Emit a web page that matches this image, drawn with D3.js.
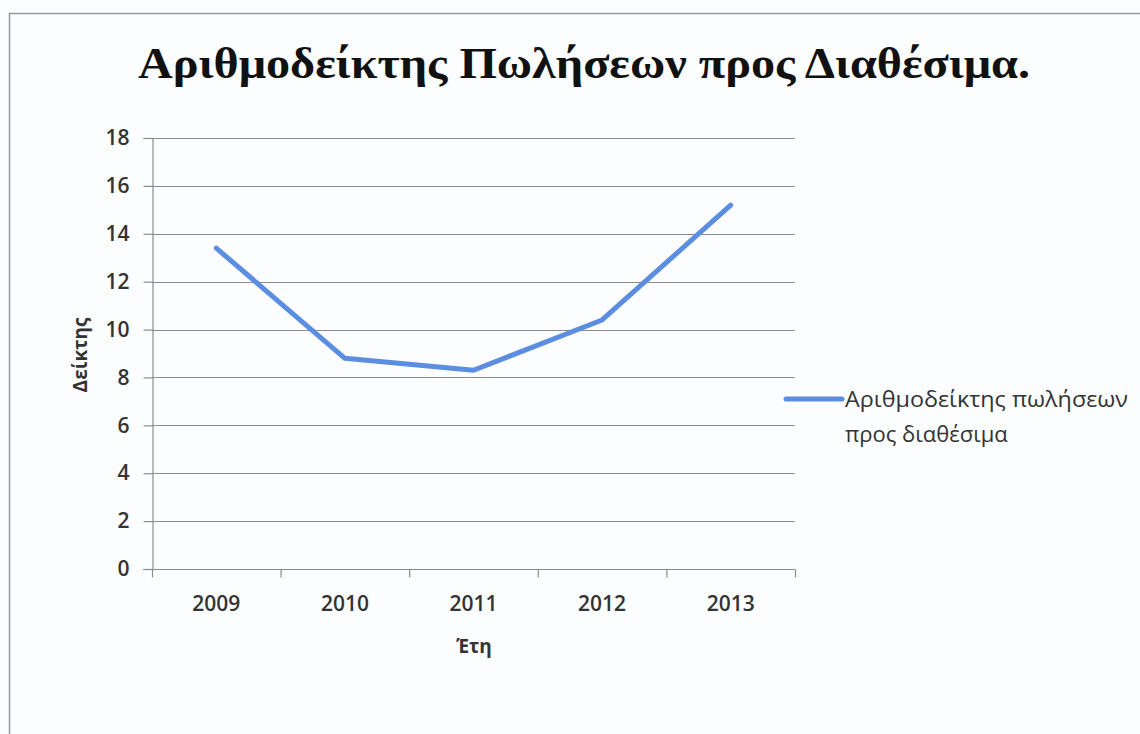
<!DOCTYPE html>
<html>
<head>
<meta charset="utf-8">
<script src="https://cdn.jsdelivr.net/npm/d3@7"></script>
<style>
  html, body { margin: 0; padding: 0; background: #ffffff; }
  svg { display: block; }
</style>
</head>
<body>
<svg id="chart" width="1140" height="734"></svg>
<script>
// Sales-to-cash ratio by year
const years = ["2009", "2010", "2011", "2012", "2013"];
const ratioValues = [13.4, 8.8, 8.3, 10.4, 15.2];
const yTicks = [0, 2, 4, 6, 8, 10, 12, 14, 16, 18];
const titleText = "Αριθμοδείκτης Πωλήσεων προς Διαθέσιμα.";
const yTitle = "Δείκτης";
const xTitle = "Έτη";
const legendLines = ["Αριθμοδείκτης πωλήσεων", "προς διαθέσιμα"];

const svg = d3.select("#chart");
const W = 1140, H = 734;
const plot = { left: 152, right: 795, top: 138, bottom: 569 };
const lineColor = "#5b8ee0";
const gridColor = "#8c8c8c";
const textColor = "#333333";
const sans = "'Open Sans', 'Noto Sans', sans-serif";

// page background and frame
svg.append("rect").attr("width", W).attr("height", H).attr("fill", "#fbfdfe");
svg.append("path")
  .attr("d", `M9.5,${H} V13.5 H${W}`)
  .attr("fill", "none").attr("stroke", "#9a9a9a").attr("stroke-width", 1.5);

// title
svg.append("text")
  .attr("x", 584).attr("y", 78)
  .attr("text-anchor", "middle")
  .attr("font-family", "'Liberation Serif', 'Times New Roman', serif")
  .attr("font-weight", "bold")
  .attr("font-size", 45)
  .attr("textLength", 892)
  .attr("lengthAdjust", "spacingAndGlyphs")
  .attr("fill", "#111")
  .text(titleText);

const x = d3.scaleBand().domain(years).range([plot.left, plot.right]);
const y = d3.scaleLinear().domain([0, 18]).range([plot.bottom, plot.top]);

// horizontal gridlines
svg.append("g")
  .selectAll("line")
  .data(yTicks)
  .join("line")
  .attr("x1", plot.left).attr("x2", plot.right)
  .attr("y1", d => Math.round(y(d)) + 0.5).attr("y2", d => Math.round(y(d)) + 0.5)
  .attr("stroke", gridColor).attr("stroke-width", 1.2);

// y axis
const yAxis = svg.append("g")
  .attr("transform", `translate(${plot.left + 0.5},0)`)
  .call(d3.axisLeft(y).tickValues(yTicks).tickSize(9).tickPadding(14).tickFormat(d3.format("d")));
yAxis.select(".domain").attr("stroke", gridColor).attr("stroke-width", 1.2);
yAxis.selectAll(".tick line").attr("stroke", gridColor).attr("stroke-width", 1.2);
yAxis.selectAll(".tick text")
  .attr("font-family", sans).attr("font-size", 21).attr("font-weight", 600)
  .attr("fill", textColor);

// x axis with boundary ticks between categories
const xAxis = svg.append("g")
  .attr("transform", `translate(0,${Math.round(plot.bottom) + 0.5})`)
  .call(d3.axisBottom(x).tickSize(0).tickPadding(27));
xAxis.select(".domain").remove();
xAxis.append("line")
  .attr("x1", plot.left - 9).attr("x2", plot.right)
  .attr("stroke", gridColor).attr("stroke-width", 1.2);
xAxis.selectAll(".boundary")
  .data(years.map(d => x(d)).concat([plot.right]))
  .join("line")
  .attr("class", "boundary")
  .attr("x1", d => d + 0.5).attr("x2", d => d + 0.5)
  .attr("y1", 0).attr("y2", 8)
  .attr("stroke", gridColor).attr("stroke-width", 1.2);
xAxis.selectAll(".tick text")
  .attr("font-family", sans).attr("font-size", 21).attr("font-weight", 600)
  .attr("fill", textColor);

// axis titles
svg.append("text")
  .attr("transform", `translate(87,355) rotate(-90)`)
  .attr("text-anchor", "middle")
  .attr("font-family", sans).attr("font-size", 19).attr("font-weight", "bold")
  .attr("fill", textColor)
  .text(yTitle);
svg.append("text")
  .attr("x", 474).attr("y", 653)
  .attr("text-anchor", "middle")
  .attr("font-family", sans).attr("font-size", 19).attr("font-weight", "bold")
  .attr("fill", textColor)
  .text(xTitle);

// data line
const line = d3.line()
  .x((d, i) => x(years[i]) + x.bandwidth() / 2)
  .y(d => y(d));
svg.append("path")
  .datum(ratioValues)
  .attr("d", line)
  .attr("fill", "none")
  .attr("stroke", lineColor)
  .attr("stroke-width", 5)
  .attr("stroke-linejoin", "round")
  .attr("stroke-linecap", "round");

// legend
const legend = svg.append("g").attr("transform", "translate(786,399)");
legend.append("line")
  .attr("x1", 0).attr("x2", 56)
  .attr("stroke", lineColor).attr("stroke-width", 5).attr("stroke-linecap", "round");
legend.selectAll("text")
  .data(legendLines)
  .join("text")
  .attr("x", 59).attr("y", (d, i) => 8 + i * 35)
  .attr("font-family", sans).attr("font-size", 22)
  .attr("textLength", (d, i) => i === 0 ? 283 : null)
  .attr("lengthAdjust", "spacingAndGlyphs")
  .attr("fill", textColor)
  .text(d => d);
</script>
</body>
</html>
